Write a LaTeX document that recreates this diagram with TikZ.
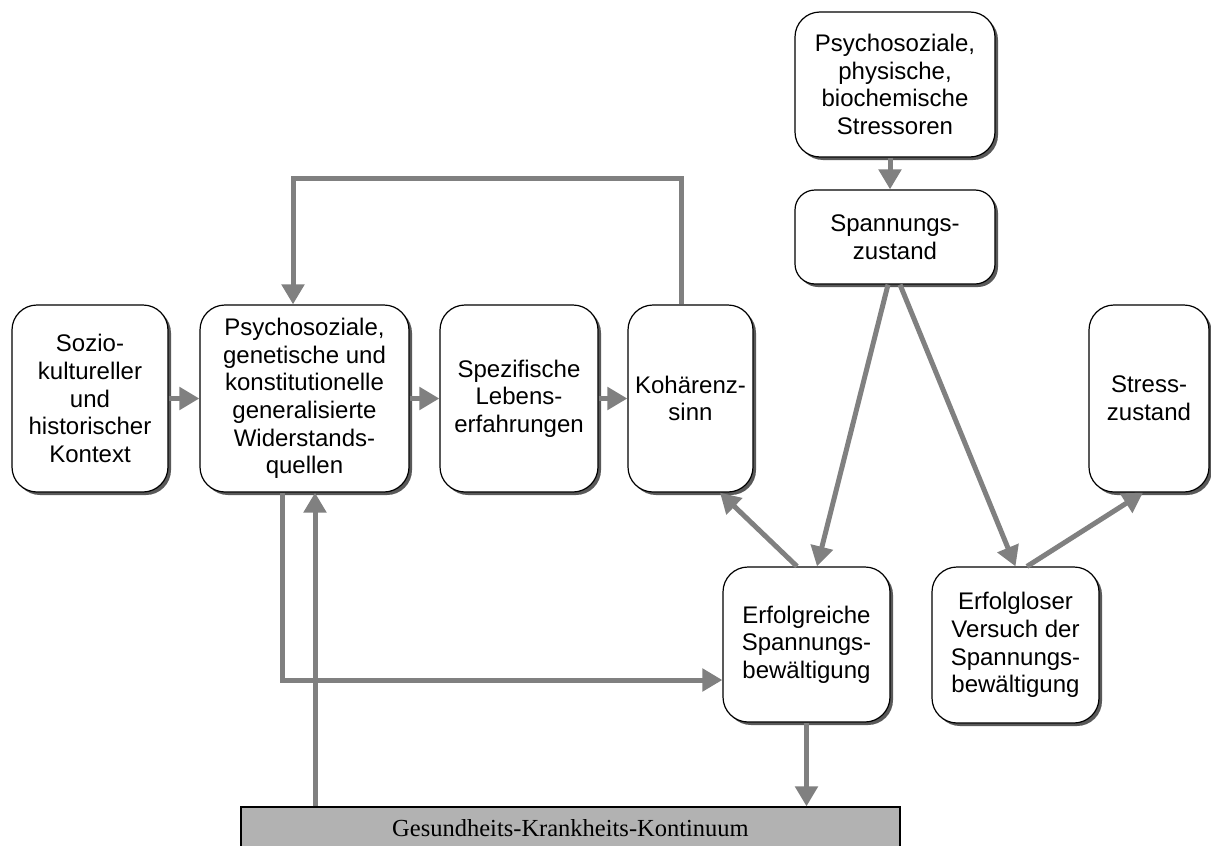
\documentclass[tikz,border=0pt]{standalone}
\usepackage{fontspec}
\setmainfont{Liberation Sans}
\newfontfamily\tnrfont{Liberation Serif}
\usetikzlibrary{arrows.meta,shadows,positioning,calc}
\definecolor{arrgray}{HTML}{808080}
\definecolor{bargray}{HTML}{B2B2B2}
\tikzset{
  box/.style={draw=black, line width=1.2pt, fill=white, rounded corners=25pt,
    align=center, inner sep=0pt,
    font=\fontsize{24}{27.6}\selectfont,
    drop shadow={shadow xshift=3pt, shadow yshift=-3pt, fill=black!65, opacity=1}},
  arr/.style={draw=arrgray, line width=5pt,
    -{Triangle[width=22pt,length=20pt]}},
  plain/.style={draw=arrgray, line width=5pt}
}
\begin{document}
\begin{tikzpicture}[x=1pt,y=-1pt]
\useasboundingbox (0,0) rectangle (1211,846);

\node[box, minimum width=156pt, minimum height=187pt] (soz) at (90,398.5)
  {Sozio-\\kultureller\\und\\historischer\\Kontext};
\node[box, minimum width=209pt, minimum height=187pt] (wq) at (304.5,398.5)
  {Psychosoziale,\\genetische und\\konstitutionelle\\generalisierte\\Widerstands-\\quellen};
\node[box, minimum width=158pt, minimum height=187pt] (spez) at (519,398.5)
  {Spezifische\\Lebens-\\erfahrungen};
\node[box, minimum width=125pt, minimum height=187pt] (koh) at (690.5,398.5)
  {Kohärenz-\\sinn};
\node[box, minimum width=120pt, minimum height=187pt] (stress) at (1149,398.5)
  {Stress-\\zustand};
\node[box, minimum width=200pt, minimum height=145pt] (stressor) at (895,84.5)
  {Psychosoziale,\\physische,\\biochemische\\Stressoren};
\node[box, minimum width=200pt, minimum height=94pt, rounded corners=20pt] (spann) at (895,237)
  {Spannungs-\\zustand};
\node[box, minimum width=167pt, minimum height=155pt] (erf) at (806.5,644.5)
  {Erfolgreiche\\Spannungs-\\bewältigung};
\node[box, minimum width=167pt, minimum height=156pt] (erfl) at (1015.5,645)
  {Erfolgloser\\Versuch der\\Spannungs-\\bewältigung};
\node[draw=black, line width=1.2pt, fill=bargray, inner sep=0pt,
  minimum width=659pt, minimum height=43pt,
  font=\tnrfont\fontsize{24.5}{28}\selectfont] (bar) at (570.5,828.5)
  {Gesundheits-Krankheits-Kontinuum};

% horizontal chain
\draw[arr] (soz) -- (wq);
\draw[arr] (wq) -- (spez);
\draw[arr] (spez) -- (koh);

% feedback loop from Kohaerenzsinn to Widerstandsquellen
\draw[arr] ([xshift=-9.5pt]koh.north) -- ++(0,-126) -| ([xshift=-11.5pt]wq.north);

% stressors
\draw[arr] ([xshift=-5pt]stressor.south) -- ([xshift=-5pt]spann.north);
\draw[arr] ([xshift=-7pt]spann.south) -- ([xshift=10.5pt]erf.north);
\draw[arr] ([xshift=5pt]spann.south) -- (erfl.north);
\draw[arr] ([xshift=-9.5pt]erf.north) -- ([xshift=29.5pt]koh.south);
\draw[arr] ([xshift=11.5pt]erfl.north) -- ([xshift=-6pt]stress.south);

% Widerstandsquellen -> erfolgreiche Bewaeltigung
\draw[arr] ([xshift=-22.5pt]wq.south) |- ([yshift=-35.5pt]erf.west);

% continuum -> Widerstandsquellen
\coordinate (b1) at ([xshift=10.5pt]wq.south);
\draw[arr] (b1 |- bar.north) -- (b1);

% erfolgreiche Bewaeltigung -> continuum
\draw[arr] (erf.south) -- (erf.south |- bar.north);
\end{tikzpicture}
\end{document}
